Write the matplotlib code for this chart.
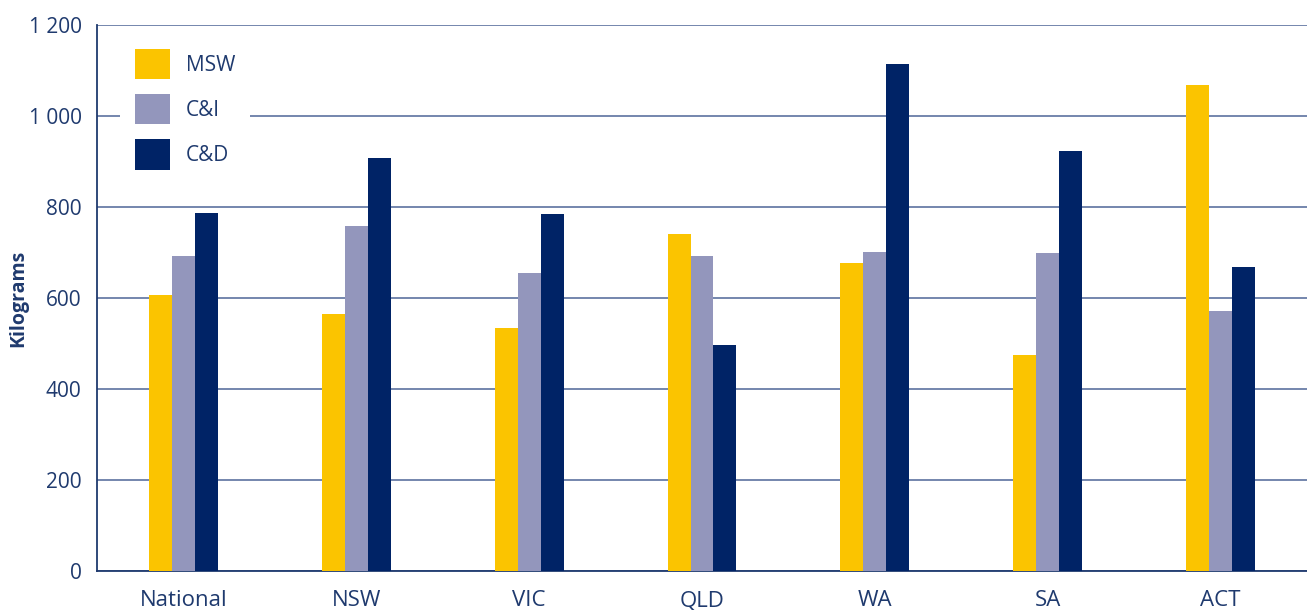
import matplotlib.pyplot as plt
import numpy as np
from matplotlib.ticker import FuncFormatter

# ---------- data ----------
regions = ['National', 'NSW', 'VIC', 'QLD', 'WA', 'SA', 'ACT']
msw = [606, 565, 534, 741, 677, 475, 1068]
c_and_i = [692, 758, 655, 692, 701, 699, 571]
c_and_d = [787, 908, 785, 497, 1114, 923, 668]
series_names = ['MSW', 'C&I', 'C&D']
colors = ['#FBC400', '#9396BC', '#002366']

text_col = '#1F3A6E'
grid_col = '#7486AD'

plt.rcParams['font.family'] = ['Open Sans', 'DejaVu Sans']

fig = plt.figure(figsize=(13.07, 6.10), dpi=100)
ax = fig.add_axes([97 / 1307, 39 / 610, 1 - 97 / 1307, 546 / 610])

x = np.arange(len(regions))
w = 0.133
for i, (vals, name, c) in enumerate(zip([msw, c_and_i, c_and_d], series_names, colors)):
    ax.bar(x + (i - 1) * w, vals, width=w, color=c, label=name, zorder=3)

ax.set_xlim(-0.5, len(regions) - 0.5)
ax.set_ylim(0, 1200)
ax.set_yticks(range(0, 1201, 200))
ax.yaxis.set_major_formatter(FuncFormatter(lambda v, p: f'{int(v):,}'.replace(',', ' ')))
ax.set_xticks(x)
ax.set_xticklabels(regions)
ax.tick_params(axis='both', length=0, colors=text_col)
ax.tick_params(axis='y', pad=11, labelsize=15)
ax.tick_params(axis='x', pad=14, labelsize=16)

ax.grid(axis='y', color=grid_col, linewidth=1.4, zorder=0)
ax.set_axisbelow(True)
for s in ['top', 'right']:
    ax.spines[s].set_visible(False)
for s in ['left', 'bottom']:
    ax.spines[s].set_color(text_col)
    ax.spines[s].set_linewidth(1.3)

ax.set_ylabel('Kilograms', fontsize=14, fontweight='bold', color=text_col)
ax.yaxis.set_label_coords(-0.057, 0.5)

leg = ax.legend(loc='upper left', bbox_to_anchor=(0.0193, 0.983), frameon=True, fontsize=15,
                handlelength=1.7, handleheight=1.86, handletextpad=0.75, labelspacing=0.72,
                borderpad=0.7, borderaxespad=0)
leg.get_frame().set_facecolor('white')
leg.get_frame().set_edgecolor('none')
leg.get_frame().set_alpha(1)
for t in leg.get_texts():
    t.set_color(text_col)

fig.savefig('out.png', dpi=100)
